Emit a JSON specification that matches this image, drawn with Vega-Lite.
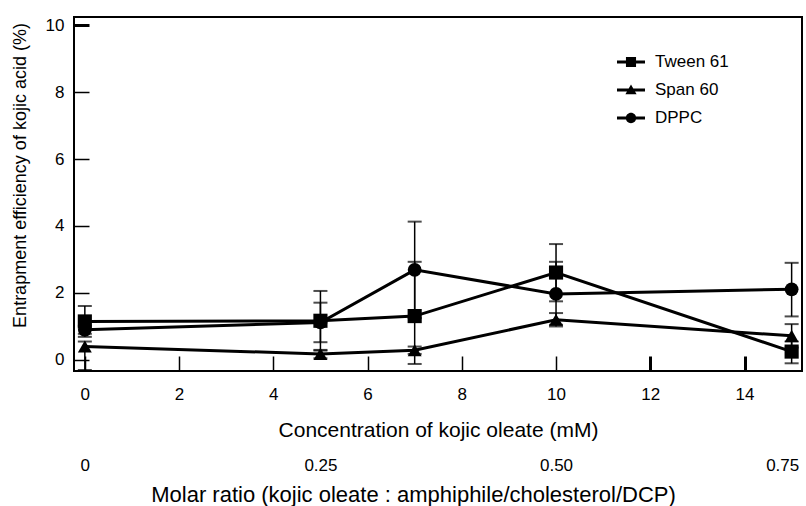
{
  "$schema": "https://vega.github.io/schema/vega-lite/v6.json",
  "width": 728,
  "height": 354,
  "autosize": "none",
  "padding": {"left": 74, "top": 17, "right": 4, "bottom": 135},
  "background": "white",
  "config": {
    "view": {"stroke": "black", "strokeWidth": 2},
    "font": "Liberation Sans",
    "axis": {"labelColor": "black", "titleColor": "black", "tickColor": "black", "labelFont": "Liberation Sans", "titleFont": "Liberation Sans", "titleFontWeight": "normal", "grid": false, "domain": false},
    "legend": {"labelFont": "Liberation Sans"}
  },
  "data": {"values": [
    {"s": "Tween 61", "conc": 0, "y": 1.15, "lo": 0.69, "hi": 1.61},
    {"s": "Tween 61", "conc": 5, "y": 1.17, "lo": 0.28, "hi": 2.06},
    {"s": "Tween 61", "conc": 7, "y": 1.31, "lo": -0.12, "hi": 2.93},
    {"s": "Tween 61", "conc": 10, "y": 2.61, "lo": 1.75, "hi": 3.46},
    {"s": "Tween 61", "conc": 15, "y": 0.25, "lo": -0.1, "hi": 0.55},
    {"s": "Span 60", "conc": 0, "y": 0.4, "lo": -0.3, "hi": 0.55},
    {"s": "Span 60", "conc": 5, "y": 0.18, "lo": 0.05, "hi": 0.3},
    {"s": "Span 60", "conc": 7, "y": 0.29, "lo": 0.18, "hi": 0.4},
    {"s": "Span 60", "conc": 10, "y": 1.2, "lo": 1.05, "hi": 1.4},
    {"s": "Span 60", "conc": 15, "y": 0.72, "lo": 0.37, "hi": 1.07},
    {"s": "DPPC", "conc": 0, "y": 0.9, "lo": 0.78, "hi": 1.02},
    {"s": "DPPC", "conc": 5, "y": 1.12, "lo": 0.53, "hi": 1.71},
    {"s": "DPPC", "conc": 7, "y": 2.69, "lo": 1.25, "hi": 4.13},
    {"s": "DPPC", "conc": 10, "y": 1.97, "lo": 1.0, "hi": 2.93},
    {"s": "DPPC", "conc": 15, "y": 2.11, "lo": 1.3, "hi": 2.9}
  ]},
  "layer": [
    {
      "mark": {"type": "rule", "color": "black", "strokeWidth": 1.5},
      "encoding": {
        "x": {"field": "conc", "type": "quantitative", "scale": {"domain": [-0.23, 15.22], "nice": false, "zero": false},
          "axis": {"orient": "bottom", "values": [0, 2, 4, 6, 8, 10, 12, 14], "tickSize": -15, "tickWidth": {"condition": {"test": "datum.value >= 12", "value": 3}, "value": 1.5}, "labelFontSize": 17, "labelPadding": 30, "title": "Concentration of kojic oleate (mM)", "titleFontSize": 21, "titlePadding": 17}},
        "y": {"field": "lo", "type": "quantitative", "scale": {"domain": [-0.33, 10.24], "nice": false, "zero": false}, "title": "Entrapment efficiency of kojic acid (%)",
          "axis": {"values": [0, 2, 4, 6, 8, 10], "tickSize": -15, "tickWidth": {"condition": {"test": "datum.value >= 10", "value": 3}, "value": 1.5}, "labelFontSize": 17, "labelPadding": 25, "titleFontSize": 18, "titleX": -54, "titleY": 158, "titleBaseline": "middle", "titleAlign": "center"}},
        "y2": {"field": "hi"}
      }
    },
    {
      "mark": {"type": "tick", "orient": "horizontal", "color": "black", "size": 14, "thickness": 2},
      "encoding": {
        "x": {"field": "conc", "type": "quantitative", "axis": null},
        "y": {"field": "hi", "type": "quantitative", "title": "Entrapment efficiency of kojic acid (%)"}
      }
    },
    {
      "mark": {"type": "tick", "orient": "horizontal", "color": "black", "size": 14, "thickness": 2},
      "encoding": {
        "x": {"field": "conc", "type": "quantitative", "axis": null},
        "y": {"field": "lo", "type": "quantitative", "title": "Entrapment efficiency of kojic acid (%)"}
      }
    },
    {
      "mark": {"type": "line", "color": "black", "strokeWidth": 3},
      "encoding": {
        "x": {"field": "conc", "type": "quantitative",
          "axis": {"orient": "bottom", "values": [0, 5, 10, 14.8], "labelExpr": "datum.value == 0 ? '0' : datum.value == 5 ? '0.25' : datum.value == 10 ? '0.50' : '0.75'", "ticks": false, "offset": 86, "labelPadding": 0, "labelFontSize": 17, "title": "Molar ratio (kojic oleate : amphiphile/cholesterol/DCP)", "titleFontSize": 22, "titlePadding": 11, "titleX": 339, "titleAlign": "center"}},
        "y": {"field": "y", "type": "quantitative", "title": "Entrapment efficiency of kojic acid (%)"},
        "detail": {"field": "s"}
      }
    },
    {
      "mark": {"type": "point", "filled": true, "color": "black", "opacity": 1},
      "encoding": {
        "x": {"field": "conc", "type": "quantitative", "axis": null},
        "y": {"field": "y", "type": "quantitative", "title": "Entrapment efficiency of kojic acid (%)"},
        "shape": {"field": "s", "type": "nominal", "scale": {"domain": ["Tween 61", "Span 60", "DPPC"], "range": ["square", "triangle-up", "circle"]}, "legend": null},
        "size": {"field": "s", "type": "nominal", "scale": {"domain": ["Tween 61", "Span 60", "DPPC"], "range": [200, 190, 170]}, "legend": null}
      }
    },
    {
      "transform": [{"filter": "datum.conc < -100"}],
      "mark": {"type": "point", "filled": true, "color": "black", "opacity": 1},
      "encoding": {
        "shape": {"field": "s", "type": "nominal",
          "scale": {"domain": ["Tween 61", "Span 60", "DPPC"], "range": [
            "M-1,-0.107H1V0.107H-1Z M-0.36,-0.36H0.36V0.36H-0.36Z",
            "M-1,-0.107H1V0.107H-1Z M0,-0.4L0.4,0.3L-0.4,0.3Z",
            "M-1,-0.107H1V0.107H-1Z M0.37,0A0.37,0.37 0 1,1 -0.37,0A0.37,0.37 0 1,1 0.37,0Z"
          ]},
          "legend": {"title": null, "orient": "none", "legendX": 543, "legendY": 31, "symbolSize": 784, "symbolFillColor": "black", "symbolStrokeWidth": 0, "symbolOpacity": 1, "labelFontSize": 17, "labelOffset": 10, "rowPadding": 6, "padding": 0, "labelColor": "black"}
        }
      }
    }
  ],
  "resolve": {"scale": {"shape": "independent", "size": "independent"}, "axis": {"x": "independent"}}
}
